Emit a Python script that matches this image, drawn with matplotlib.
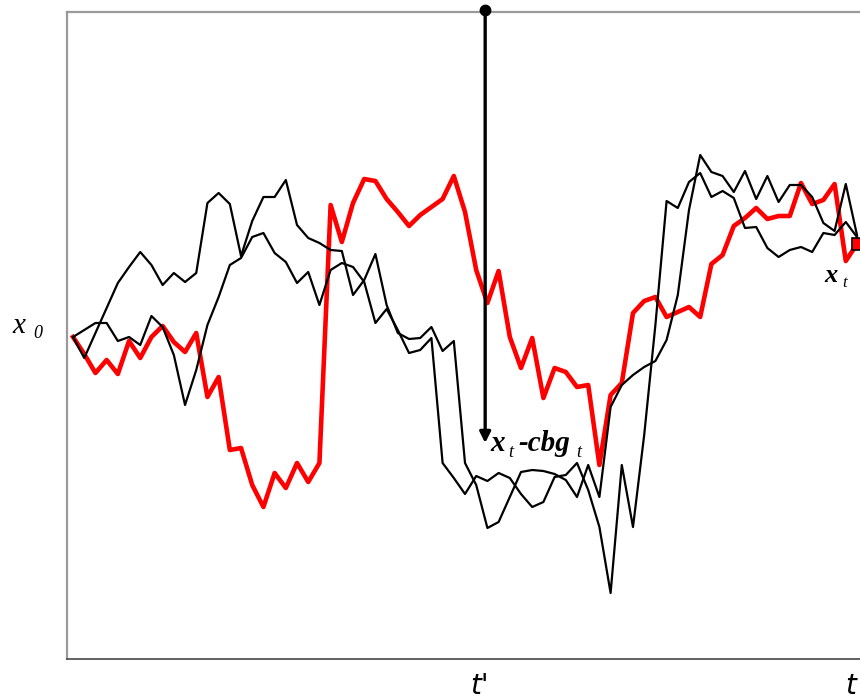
import matplotlib.pyplot as plt
import numpy as np

# values relative to x0 (arbitrary units), one per time step
red_path = [0.00, -0.17, -0.36, -0.23, -0.37, -0.04, -0.21, 0.00, 0.11, -0.05,
            -0.15, 0.04, -0.60, -0.40, -1.13, -1.11, -1.48, -1.70, -1.36, -1.51,
            -1.26, -1.45, -1.26, 1.32, 0.95, 1.34, 1.58, 1.56, 1.38, 1.25,
            1.11, 1.22, 1.30, 1.38, 1.61, 1.25, 0.67, 0.34, 0.66, 0.00,
            -0.31, -0.01, -0.61, -0.31, -0.35, -0.50, -0.48, -1.28, -0.58, -0.46,
            0.24, 0.36, 0.40, 0.20, 0.25, 0.30, 0.20, 0.73, 0.82, 1.11,
            1.19, 1.29, 1.18, 1.21, 1.21, 1.54, 1.33, 1.37, 1.53, 0.76,
            0.93]
black_a = [0.00, -0.21, 0.04, 0.29, 0.54, 0.70, 0.85, 0.72, 0.52, 0.64,
           0.55, 0.64, 1.34, 1.44, 1.33, 0.81, 1.16, 1.40, 1.40, 1.57,
           1.12, 0.99, 0.94, 0.87, 0.86, 0.42, 0.57, 0.83, 0.32, 0.04,
           -0.02, -0.01, 0.10, -0.14, -0.04, -1.26, -1.48, -1.91, -1.85, -1.60,
           -1.35, -1.33, -1.34, -1.37, -1.43, -1.60, -1.28, -1.60, -0.70, -0.48,
           -0.38, -0.30, -0.24, -0.03, 0.42, 1.27, 1.82, 1.65, 1.61, 1.45,
           1.66, 1.38, 1.61, 1.35, 1.52, 1.52, 1.40, 1.14, 1.06, 1.53,
           1.02]
black_b = [0.00, 0.07, 0.14, 0.14, -0.04, 0.00, -0.08, 0.21, 0.10, -0.18,
           -0.68, -0.33, 0.12, 0.40, 0.72, 0.79, 1.00, 1.04, 0.84, 0.75,
           0.54, 0.65, 0.32, 0.67, 0.74, 0.70, 0.55, 0.14, 0.28, 0.07,
           -0.16, -0.13, -0.01, -1.26, -1.41, -1.57, -1.39, -1.44, -1.36, -1.41,
           -1.57, -1.70, -1.65, -1.40, -1.38, -1.26, -1.53, -1.90, -2.56, -1.28,
           -1.90, -0.98, 0.12, 1.36, 1.29, 1.55, 1.64, 1.40, 1.46, 1.39,
           1.09, 1.10, 0.89, 0.80, 0.87, 0.90, 0.85, 1.04, 1.02, 1.15,
           1.00]
t_prime = 36.8
arrow_end = -1.06

steps = np.arange(len(red_path))
SERIF = 'Liberation Serif'


def chain_text(ax, x, y, pieces):
    # pieces: (string, size, weight, gap in pt, drop in pt)
    prev = None
    for s, size, weight, gap, drop in pieces:
        kw = dict(fontsize=size, fontweight=weight, style='italic', family=SERIF,
                  va='baseline', ha='left', annotation_clip=False)
        if prev is None:
            prev = ax.annotate(s, xy=(x, y), xycoords='data',
                               xytext=(0, drop), textcoords='offset points', **kw)
        else:
            prev = ax.annotate(s, xy=(1, y), xycoords=(prev, 'data'),
                               xytext=(gap, drop), textcoords='offset points', **kw)


fig = plt.figure(figsize=(8.6, 6.98), dpi=100)
ax = fig.add_axes([67 / 860, 39 / 698, 793 / 860, 647 / 698])
ax.set_xlim(-0.54, 70.27)
ax.set_ylim(-3.22, 3.25)

ax.plot(steps, red_path, color='#ff0000', lw=3.3, zorder=2)
ax.plot(steps, black_a, color='black', lw=1.6, zorder=3)
ax.plot(steps, black_b, color='black', lw=1.6, zorder=3)
ax.plot(steps[-1] + 0.05, red_path[-1], marker='s', ms=8.5, mfc='#ff0000', mec='black',
        mew=1.2, clip_on=False, zorder=4)

# arrow from the top down to x_t - c b g_t
ax.annotate('', xy=(t_prime, arrow_end), xytext=(t_prime, 3.27),
            arrowprops=dict(arrowstyle='-|>', color='black', lw=2.4,
                            mutation_scale=16, shrinkA=0, shrinkB=0),
            annotation_clip=False, zorder=5)
ax.plot(t_prime, 3.27, 'o', color='black', ms=7.5, clip_on=False, zorder=6)

chain_text(ax, t_prime + 0.5, -1.14, [
    ('x', 21, 'bold', 0, 0),
    ('t', 13, 'normal', 2, -4.3),
    ('-cbg', 21, 'bold', 4, 0),
    ('t', 13, 'normal', 4, -4.3),
])
chain_text(ax, 67.1, 0.55, [
    ('x', 19, 'bold', 0, 0),
    ('t', 12, 'normal', 3, -3.6),
])
chain_text(ax, -5.4, 0.04, [
    ('x', 21, 'normal', 0, 0),
    ('0', 13, 'normal', 6, -3.6),
])

ax.text(t_prime - 0.5, -3.565, "t'", fontsize=20, style='italic', ha='center',
        va='baseline', family='DejaVu Sans')
ax.text(69.45, -3.565, 't', fontsize=20, style='italic', ha='center',
        va='baseline', family='DejaVu Sans')

ax.set_xticks([])
ax.set_yticks([])
ax.spines['right'].set_visible(False)
for side in ['left', 'top']:
    ax.spines[side].set_color('#9a9a9a')
    ax.spines[side].set_linewidth(1.6)
ax.spines['bottom'].set_color('#555555')
ax.spines['bottom'].set_linewidth(1.3)

fig.savefig('out.png', dpi=100)
